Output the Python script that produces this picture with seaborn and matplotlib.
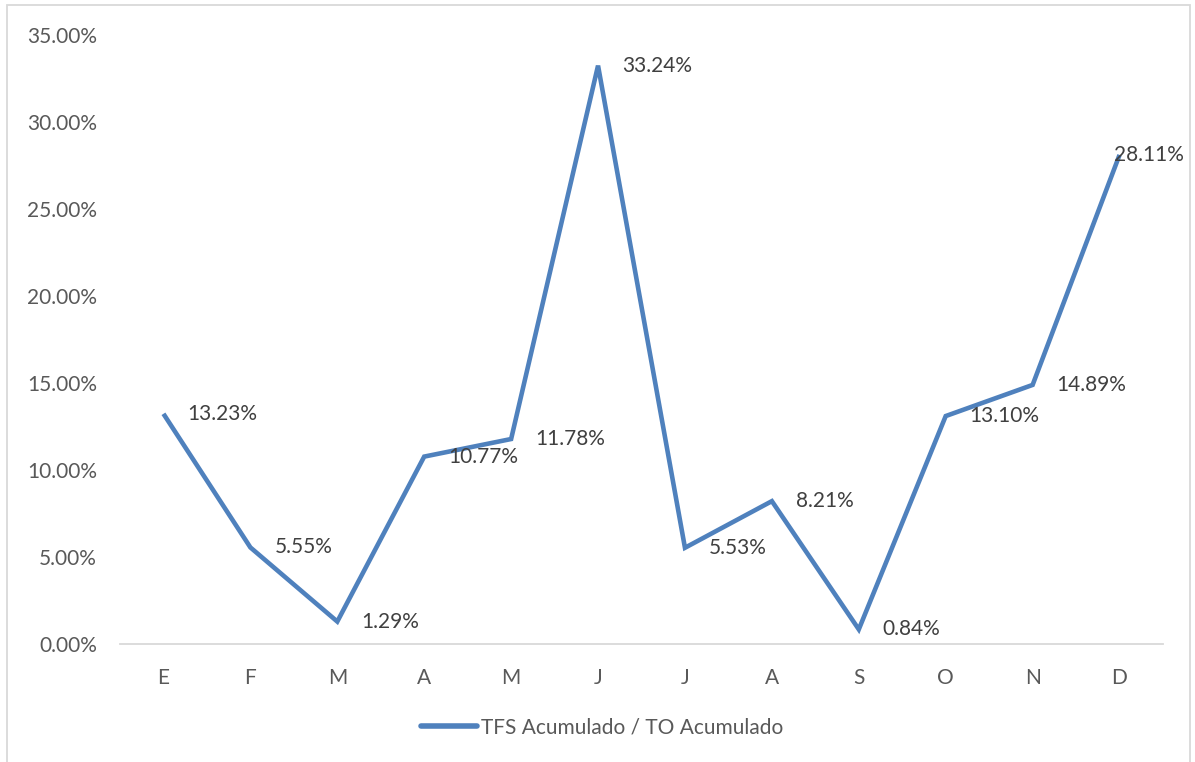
import matplotlib
matplotlib.use("Agg")
import matplotlib.pyplot as plt
from matplotlib.patches import Rectangle
from matplotlib.ticker import FuncFormatter, MultipleLocator
import pandas as pd
import seaborn as sns

months = ["E", "F", "M", "A", "M", "J", "J", "A", "S", "O", "N", "D"]
ratio_pct = [13.23, 5.55, 1.29, 10.77, 11.78, 33.24, 5.53, 8.21, 0.84, 13.10, 14.89, 28.11]
series_name = "TFS Acumulado / TO Acumulado"

sns.set_theme(style="white")
plt.rcParams["font.family"] = ["Lato", "DejaVu Sans"]

LINE = "#4F81BD"
TXT = "#595959"
LBL = "#404040"
FS = 15

df = pd.DataFrame({"idx": range(len(months)), "valor": ratio_pct, "serie": series_name})

fig = plt.figure(figsize=(11.95, 7.62), dpi=100)
ax = fig.add_axes([120 / 1195, 118 / 762, (1163 - 120) / 1195, (644 - 35) / 762])

sns.lineplot(data=df, x="idx", y="valor", hue="serie", palette=[LINE],
             linewidth=3.3, sort=False, ax=ax, legend=False)
for ln in ax.lines:
    ln.set_solid_joinstyle("miter")
    ln.set_solid_capstyle("butt")

ax.set_xlim(-0.5, len(months) - 0.5)
ax.set_ylim(0, 35)
ax.yaxis.set_major_locator(MultipleLocator(5))
ax.yaxis.set_major_formatter(FuncFormatter(lambda v, p: f"{v:.2f}%"))
ax.set_xticks(range(len(months)))
ax.set_xticklabels(months)
ax.set_xlabel("")
ax.set_ylabel("")
ax.tick_params(axis="both", length=0, labelsize=FS, colors=TXT)
ax.tick_params(axis="y", pad=16.5)
ax.tick_params(axis="x", pad=17)

for side in ["top", "right", "left"]:
    ax.spines[side].set_visible(False)
ax.spines["bottom"].set_color("#D9D9D9")
ax.spines["bottom"].set_linewidth(1.3)
ax.grid(False)

# value labels to the right of each point; the last one is pulled back inside the frame
for i, v in enumerate(ratio_pct):
    dx = 24 if i < len(ratio_pct) - 1 else -6
    ax.annotate(f"{v:.2f}%", xy=(i, v), xytext=(dx * 0.72, 0), textcoords="offset points",
                ha="left", va="center", fontsize=FS, color=LBL)

handle = plt.Line2D([], [], color=LINE, linewidth=4, solid_capstyle="round")
fig.legend([handle], [series_name], loc="center", bbox_to_anchor=(602 / 1195, 1 - 727 / 762),
           frameon=False, fontsize=FS, handlelength=2.7, handletextpad=0.2,
           labelcolor=TXT)

fig.add_artist(Rectangle((7 / 1195, -0.02), (1190 - 7) / 1195, 1 - 5 / 762 + 0.02,
                         transform=fig.transFigure, fill=False,
                         edgecolor="#D9D9D9", linewidth=1.3))

fig.savefig("out.png", dpi=100, facecolor="white")
